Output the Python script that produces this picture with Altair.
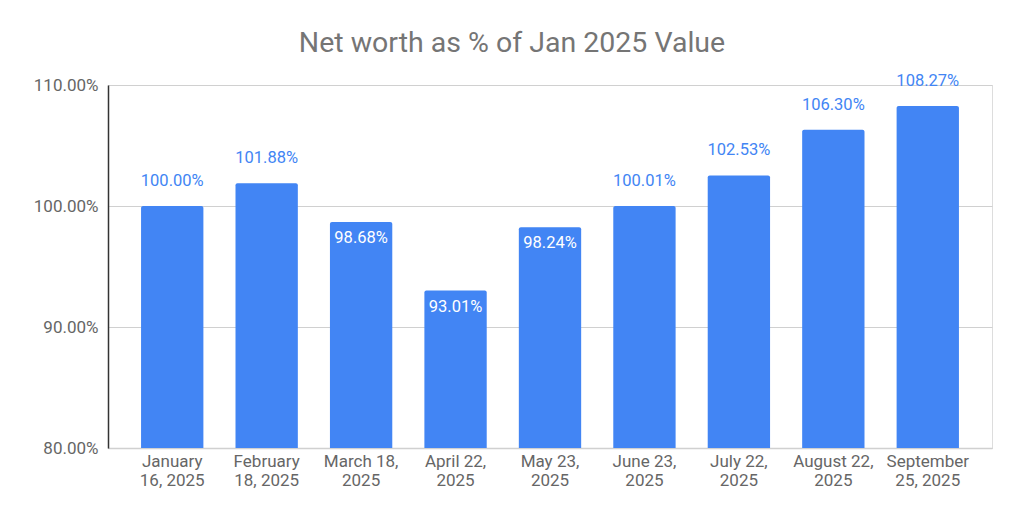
import altair as alt
import pandas as pd

dates = ["January 16, 2025", "February 18, 2025", "March 18, 2025", "April 22, 2025",
         "May 23, 2025", "June 23, 2025", "July 22, 2025", "August 22, 2025",
         "September 25, 2025"]
label_lines = [["January", "16, 2025"], ["February", "18, 2025"], ["March 18,", "2025"],
               ["April 22,", "2025"], ["May 23,", "2025"], ["June 23,", "2025"],
               ["July 22,", "2025"], ["August 22,", "2025"], ["September", "25, 2025"]]
values = [100.00, 101.88, 98.68, 93.01, 98.24, 100.01, 102.53, 106.30, 108.27]
label_inside = [False, False, True, True, True, False, False, False, False]
axis_min = 80

df = pd.DataFrame({"date": dates, "value": values, "inside": label_inside})
df["label"] = df["value"].map(lambda v: f"{v:.2f}%")

lookup = "{" + ", ".join(
    "'" + d + "': [" + ", ".join("'" + s + "'" for s in ls) + "]"
    for d, ls in zip(dates, label_lines)) + "}"

FONT = "Roboto"
BLUE = "#4285f4"

x = alt.X("date:N", sort=dates, title=None,
          scale=alt.Scale(paddingInner=0.34, paddingOuter=0.35),
          axis=alt.Axis(labelAngle=0, labelExpr=lookup + "[datum.value]",
                        labelFontSize=17, labelColor="#666666", labelFont=FONT,
                        labelLineHeight=19, labelPadding=5, ticks=False,
                        labelOverlap=False, labelBound=False,
                        domainColor="#d0d0d0", domainWidth=1.5, labelBaseline="top"))
y = alt.Y("value:Q", title=None,
          scale=alt.Scale(domain=[80, 110], nice=False, zero=False),
          axis=alt.Axis(values=[80, 90, 100, 110], labelExpr="format(datum.value, '.2f') + '%'",
                        labelFontSize=17, labelColor="#666666", labelFont=FONT,
                        labelPadding=10, ticks=False, domainColor="#333333",
                        domainWidth=1.5, gridColor="#d0d0d0", gridWidth=1.2))

base = alt.Chart(df)

bars = base.mark_bar(color=BLUE, cornerRadiusTopLeft=2, cornerRadiusTopRight=2).encode(
    x=x, y=y, y2=alt.datum(axis_min))

text_out = base.transform_filter("!datum.inside").mark_text(
    color=BLUE, font=FONT, fontSize=16.5, baseline="alphabetic", dy=-20).encode(
    x=alt.X("date:N", sort=dates), y="value:Q", text="label:N")

text_in = base.transform_filter("datum.inside").mark_text(
    color="white", font=FONT, fontSize=16.5, baseline="alphabetic", dy=21).encode(
    x=alt.X("date:N", sort=dates), y="value:Q", text="label:N")

chart = (bars + text_out + text_in).properties(
    width=884, height=363,
    title=alt.TitleParams("Net worth as % of Jan 2025 Value", font=FONT, fontSize=28.5,
                          fontWeight="normal", color="#757575", anchor="middle",
                          dx=-38, offset=15),
    autosize=alt.AutoSizeParams(type="none"),
    padding={"left": 100, "top": 77, "right": 24, "bottom": 70},
).configure_view(stroke=None).configure(background="white")

chart.save("out.html", embed_options={"renderer": "svg", "actions": False})
